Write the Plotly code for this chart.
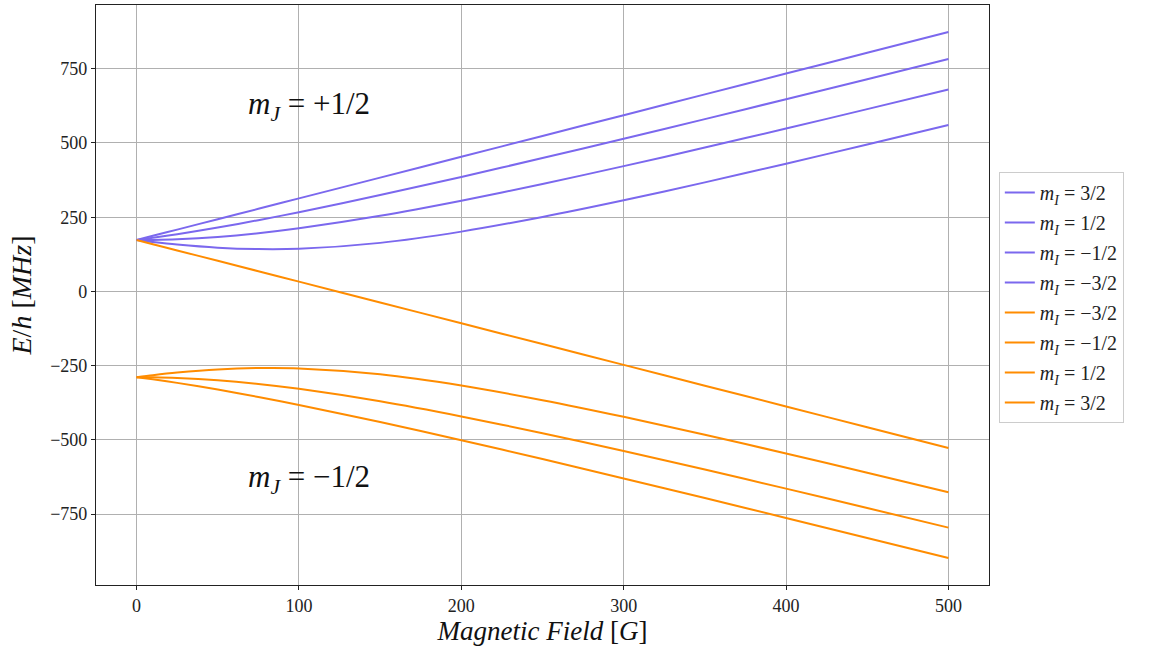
import plotly.graph_objects as go

# Magnetic field samples [G]
B = [0, 10, 25, 50, 75, 100, 150, 200, 250, 300, 350, 400, 450, 500]

# Upper manifold (m_J = +1/2), energies E/h [MHz]
up_mI_p32 = [173.2, 187.2, 208.2, 243.2, 278.2, 313.3, 383.3, 453.4, 523.5, 593.5, 663.6, 733.6, 803.7, 873.8]
up_mI_p12 = [173.2, 180.5, 192.5, 215.0, 240.0, 266.8, 324.4, 385.6, 449.1, 514.2, 580.3, 647.2, 714.6, 782.5]
up_mI_m12 = [173.2, 173.6, 175.8, 183.6, 196.0, 212.4, 254.5, 305.4, 361.8, 421.9, 484.4, 548.5, 613.8, 680.0]
up_mI_m32 = [173.2, 166.5, 157.8, 147.3, 142.5, 143.7, 163.5, 201.4, 250.8, 306.9, 367.3, 430.2, 494.9, 560.7]

# Lower manifold (m_J = -1/2)
lo_mI_m32 = [173.2, 159.1, 138.1, 103.1, 68.1, 33.0, -37.0, -107.2, -177.2, -247.2, -317.3, -387.3, -457.4, -527.5]
lo_mI_m12 = [-288.6, -281.9, -273.2, -262.7, -257.9, -259.1, -278.9, -316.8, -366.2, -422.3, -482.7, -545.6, -610.3, -676.1]
lo_mI_p12 = [-288.6, -289.0, -291.2, -299.0, -311.4, -327.8, -369.9, -420.8, -477.2, -537.3, -599.8, -663.9, -729.2, -795.4]
lo_mI_p32 = [-288.6, -295.9, -307.9, -330.4, -355.4, -382.2, -439.8, -501.0, -564.5, -629.6, -695.7, -762.6, -830.0, -897.9]

series = [
    ("3/2", up_mI_p32, "#7B68EE"),
    ("1/2", up_mI_p12, "#7B68EE"),
    ("−1/2", up_mI_m12, "#7B68EE"),
    ("−3/2", up_mI_m32, "#7B68EE"),
    ("−3/2", lo_mI_m32, "#FF8C00"),
    ("−1/2", lo_mI_m12, "#FF8C00"),
    ("1/2", lo_mI_p12, "#FF8C00"),
    ("3/2", lo_mI_p32, "#FF8C00"),
]

x_ticks = [0, 100, 200, 300, 400, 500]
y_ticks = [-750, -500, -250, 0, 250, 500, 750]

FONT = "Liberation Serif, DejaVu Serif, serif"

fig = go.Figure()
for i, (label, vals, color) in enumerate(series):
    fig.add_trace(go.Scatter(
        x=B, y=vals, mode="lines",
        line=dict(color=color, width=2, shape="spline", smoothing=0.8),
        name="<i>m</i><sub><i>I</i></sub> = " + label,
        legendgroup="g%d" % i,
    ))

fig.add_annotation(x=106, y=623, text="<i>m</i><sub><i>J</i></sub> = +1/2",
                   showarrow=False, font=dict(family=FONT, size=31, color="#111"))
fig.add_annotation(x=106, y=-630, text="<i>m</i><sub><i>J</i></sub> = −1/2",
                   showarrow=False, font=dict(family=FONT, size=31, color="#111"))

axis_common = dict(
    showline=True, linecolor="#222", linewidth=1.2, mirror=True,
    showgrid=True, gridcolor="#b0b0b0", gridwidth=1,
    ticks="outside", ticklen=4, tickcolor="#222", tickwidth=1,
    zeroline=False,
    tickfont=dict(family=FONT, size=18, color="#222"),
)

fig.update_layout(
    width=1162, height=646,
    margin=dict(l=96, r=173, t=5, b=61),
    plot_bgcolor="white", paper_bgcolor="white",
    font=dict(family=FONT, color="#222"),
    xaxis=dict(range=[-25, 525], tickvals=x_ticks,
               title=dict(text="<i>Magnetic Field</i> [<i>G</i>]",
                          font=dict(family=FONT, size=27, color="#111"), standoff=3),
               **axis_common),
    yaxis=dict(range=[-988.5, 964.5], tickvals=y_ticks,
               title=dict(text="<i>E</i>/<i>h</i> [<i>MHz</i>]",
                          font=dict(family=FONT, size=28, color="#111"), standoff=10),
               **axis_common),
    legend=dict(x=1.011, y=0.712, xanchor="left", yanchor="top",
                bordercolor="#cccccc", borderwidth=1, bgcolor="white",
                font=dict(family=FONT, size=20, color="#222"),
                tracegroupgap=1),
    showlegend=True,
)

fig.write_html("out.html")
